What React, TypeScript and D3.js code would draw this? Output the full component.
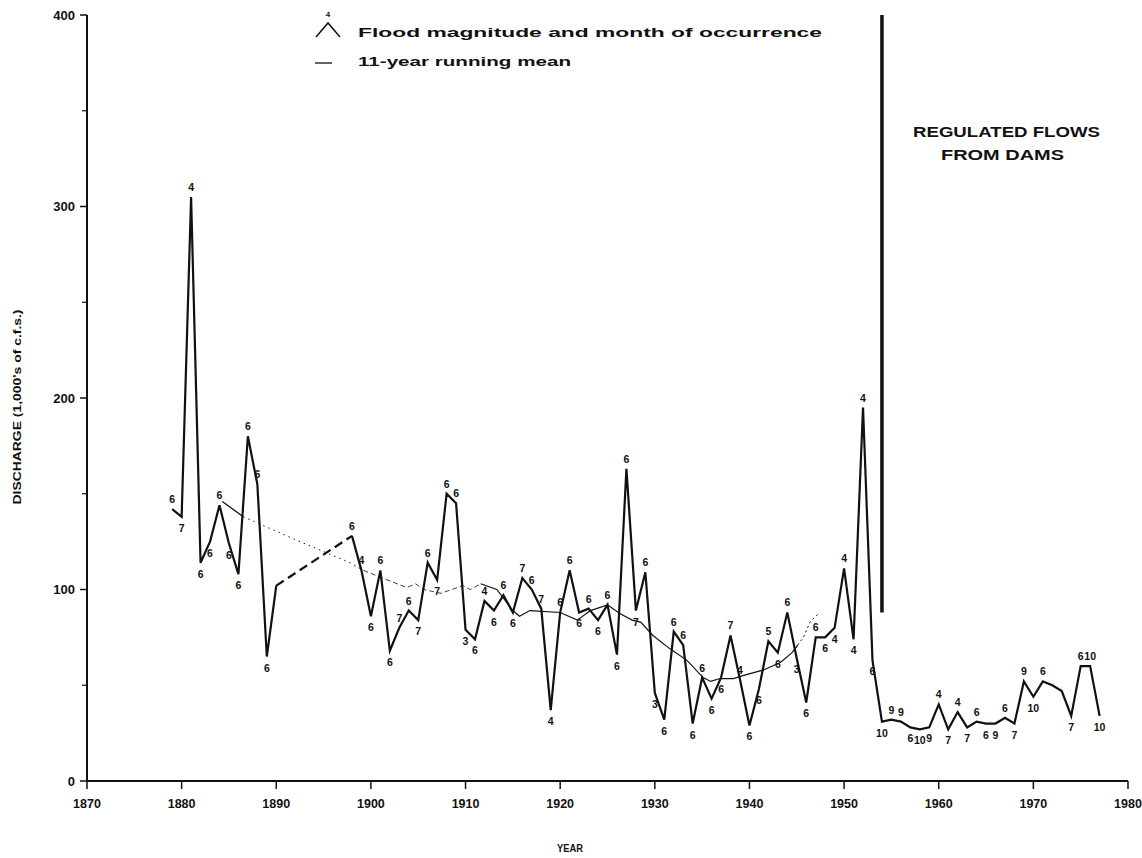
import React from 'react';
import * as d3 from 'd3';

// ---------- data ----------
const earlyYears = [1879, 1880, 1881, 1882, 1883, 1884, 1885, 1886, 1887, 1888, 1889, 1890];
const earlyPeaks = [142, 138, 305, 114, 125, 144, 124, 108, 180, 155, 65, 102];
const earlyMonths = [6, 7, 4, 6, 6, 6, 6, 6, 6, 6, 6, 0];

const laterYears = d3.range(1898, 1978);
const laterPeaks = [
  128, 110, 86, 110, 68, 80, 89, 84, 114, 105, 150, 145, 79, 74, 94, 89, 97, 88, 106, 100,
  90, 37, 88, 110, 88, 90, 84, 92, 66, 163, 89, 109, 46, 32, 78, 71, 30, 54, 43, 54,
  76, 53, 29, 48, 73, 67, 88, 64, 41, 75, 75, 80, 111, 74, 195, 63, 31, 32, 31, 28,
  27, 28, 40, 27, 36, 28, 31, 30, 30, 33, 30, 52, 44, 52, 50, 47, 34, 60, 60, 34,
];
const laterMonths = [
  6, 4, 6, 6, 6, 7, 6, 7, 6, 7, 6, 6, 3, 6, 4, 6, 6, 6, 7, 6,
  7, 4, 6, 6, 6, 6, 6, 6, 6, 6, 7, 6, 3, 6, 6, 6, 6, 6, 6, 6,
  7, 4, 6, 6, 5, 6, 6, 3, 6, 6, 6, 4, 4, 4, 4, 6, 10, 9, 9, 6,
  10, 9, 4, 7, 4, 7, 6, 6, 9, 6, 7, 9, 10, 6, 0, 0, 7, 6, 10, 10,
];

// 11-year running mean, in pieces by line style
const meanSolidEarlyYears = [1884.3, 1886.5];
const meanSolidEarlyValues = [146, 138];
const meanDottedEarlyYears = [1886.5, 1892.5, 1897.8, 1899.2];
const meanDottedEarlyValues = [138, 125, 114, 110];
const meanDashedYears = [1899.2, 1901.2, 1903.8, 1904.7, 1905.6, 1907.4, 1909.7, 1910.5, 1911.6];
const meanDashedValues = [110, 106, 101, 103, 100, 98, 102, 100, 103];
const meanSolidYears = [
  1911.6, 1913.3, 1915, 1915.7, 1916.8, 1920, 1921.8, 1923.2, 1925, 1926.3, 1927.6, 1928.5,
  1929.8, 1931.6, 1933.4, 1935.1, 1935.9, 1936.9, 1938.3, 1939.3, 1941.5, 1943.3, 1944.5, 1945.1,
];
const meanSolidValues = [
  103, 100, 89, 86, 89, 88, 84, 89, 92, 87.5, 84, 83,
  76, 69, 63, 54, 52, 53.5, 53.5, 55, 58, 62, 67, 71,
];
const meanDottedLateYears = [1945.1, 1945.7, 1946.4, 1947.3];
const meanDottedLateValues = [71, 75, 83, 87.5];

const damYear = 1954;
const damRange = [88, 400];

const xTicks = [1870, 1880, 1890, 1900, 1910, 1920, 1930, 1940, 1950, 1960, 1970, 1980];
const yTicks = [0, 100, 200, 300, 400];
const yMinorTicks = [50, 150, 250, 350];

const FONT = "'Liberation Sans Narrow', 'Liberation Sans', Arial, sans-serif";
const FONT_W = "'Liberation Sans', Arial, sans-serif";
const INK = '#111';

export default function App() {
  const W = 1142;
  const H = 858;
  const x = d3.scaleLinear().domain([1870, 1980]).range([87, 1128]);
  const y = d3.scaleLinear().domain([0, 400]).range([781, 15]);

  const line = d3
    .line<[number, number]>()
    .x((d) => x(d[0]))
    .y((d) => y(d[1]));

  const zip = (a: number[], b: number[]): [number, number][] => a.map((v, i) => [v, b[i]]);

  const early = zip(earlyYears, earlyPeaks);
  const later = zip(laterYears, laterPeaks);
  const gap: [number, number][] = [early[early.length - 1], later[0]];

  const labelFor = (vals: number[], months: number[], years: number[]) =>
    vals.map((v, i) => {
      const p = i > 0 ? vals[i - 1] : null;
      const n = i < vals.length - 1 ? vals[i + 1] : null;
      let above: boolean;
      if (p === null && n !== null) above = v >= n;
      else if (n === null && p !== null) above = v >= p;
      else {
        const pp = p as number;
        const nn = n as number;
        if (v >= Math.max(pp, nn)) above = true;
        else if (v <= Math.min(pp, nn)) above = false;
        else above = v >= (pp + nn) / 2;
      }
      return { year: years[i], value: v, month: months[i], above };
    });

  const labels = [
    ...labelFor(earlyPeaks, earlyMonths, earlyYears),
    ...labelFor(laterPeaks, laterMonths, laterYears),
  ].filter((d) => d.month > 0);

  return (
    <svg
      width={W}
      height={H}
      viewBox={`0 0 ${W} ${H}`}
      style={{ position: 'absolute', left: 0, top: 0, background: '#fff' }}
    >
      <rect x={0} y={0} width={W} height={H} fill="#fff" />

      {/* axes */}
      <line x1={x(1870)} y1={y(0)} x2={x(1980)} y2={y(0)} stroke={INK} strokeWidth={2} />
      <line x1={x(1870)} y1={y(0)} x2={x(1870)} y2={y(400)} stroke={INK} strokeWidth={2} />
      {yTicks.map((t) => (
        <g key={'y' + t}>
          <line x1={x(1870) - 7} x2={x(1870)} y1={y(t)} y2={y(t)} stroke={INK} strokeWidth={1.5} />
          <text
            x={x(1870) - 12}
            y={y(t)}
            dy="0.35em"
            textAnchor="end"
            fontFamily={FONT}
            fontWeight="bold"
            fontSize={13}
            fill={INK}
          >
            {t}
          </text>
        </g>
      ))}
      {yMinorTicks.map((t) => (
        <line key={'ym' + t} x1={x(1870) - 5} x2={x(1870)} y1={y(t)} y2={y(t)} stroke={INK} strokeWidth={1.2} />
      ))}
      {xTicks.map((t) => (
        <g key={'x' + t}>
          <line x1={x(t)} x2={x(t)} y1={y(0)} y2={y(0) + 8} stroke={INK} strokeWidth={1.5} />
          <text
            x={x(t)}
            y={y(0) + 27}
            textAnchor="middle"
            fontFamily={FONT}
            fontWeight="bold"
            fontSize={12.5}
            fill={INK}
          >
            {t}
          </text>
        </g>
      ))}

      {/* axis titles */}
      <text
        x={570}
        y={852}
        textAnchor="middle"
        fontFamily={FONT_W}
        fontWeight="bold"
        fontSize={10}
        fill={INK}
        textLength={26}
        lengthAdjust="spacingAndGlyphs"
      >
        YEAR
      </text>
      <text
        transform="translate(21,407) rotate(-90)"
        textAnchor="middle"
        fontFamily={FONT_W}
        fontWeight="bold"
        fontSize={10.5}
        fill={INK}
        textLength={195}
        lengthAdjust="spacingAndGlyphs"
      >
        DISCHARGE (1,000's of c.f.s.)
      </text>

      {/* running mean */}
      <path d={line(zip(meanSolidEarlyYears, meanSolidEarlyValues)) || ''} fill="none" stroke={INK} strokeWidth={1.3} />
      <path
        d={line(zip(meanDottedEarlyYears, meanDottedEarlyValues)) || ''}
        fill="none"
        stroke={INK}
        strokeWidth={1}
        strokeDasharray="1.5,4"
      />
      <path
        d={line(zip(meanDashedYears, meanDashedValues)) || ''}
        fill="none"
        stroke={INK}
        strokeWidth={1}
        strokeDasharray="5,3"
        opacity={0.8}
      />
      <path d={line(zip(meanSolidYears, meanSolidValues)) || ''} fill="none" stroke={INK} strokeWidth={1.2} />
      <path
        d={line(zip(meanDottedLateYears, meanDottedLateValues)) || ''}
        fill="none"
        stroke={INK}
        strokeWidth={1}
        strokeDasharray="2,3"
      />

      {/* annual floods */}
      <path d={line(early) || ''} fill="none" stroke={INK} strokeWidth={2.2} strokeLinejoin="miter" />
      <path d={line(gap) || ''} fill="none" stroke={INK} strokeWidth={2.2} strokeDasharray="9,5" />
      <path d={line(later) || ''} fill="none" stroke={INK} strokeWidth={2.2} strokeLinejoin="miter" />

      {/* month labels */}
      {labels.map((d, i) => (
        <text
          key={'m' + i}
          x={x(d.year)}
          y={y(d.value) + (d.above ? -6 : 15)}
          textAnchor="middle"
          fontFamily={FONT_W}
          fontWeight="bold"
          fontSize={10.5}
          fill={INK}
        >
          {d.month}
        </text>
      ))}

      {/* dam line */}
      <line
        x1={x(damYear)}
        x2={x(damYear)}
        y1={y(damRange[0])}
        y2={y(damRange[1])}
        stroke={INK}
        strokeWidth={3.5}
      />
      <text
        x={913}
        y={137}
        fontFamily={FONT_W}
        fontWeight="bold"
        fontSize={14}
        fill={INK}
        textLength={187}
        lengthAdjust="spacingAndGlyphs"
      >
        REGULATED FLOWS
      </text>
      <text
        x={941}
        y={160}
        fontFamily={FONT_W}
        fontWeight="bold"
        fontSize={14}
        fill={INK}
        textLength={123}
        lengthAdjust="spacingAndGlyphs"
      >
        FROM DAMS
      </text>

      {/* legend */}
      <path d="M316,37 L328,23 L340,37" fill="none" stroke={INK} strokeWidth={1.5} />
      <text x={328} y={17} textAnchor="middle" fontFamily={FONT_W} fontWeight="bold" fontSize={8} fill={INK}>
        4
      </text>
      <text
        x={358}
        y={37}
        fontFamily={FONT_W}
        fontWeight="bold"
        fontSize={13}
        fill={INK}
        textLength={464}
        lengthAdjust="spacingAndGlyphs"
      >
        Flood magnitude and month of occurrence
      </text>
      <line x1={315} x2={332} y1={63} y2={63} stroke={INK} strokeWidth={1.3} />
      <text
        x={358}
        y={66}
        fontFamily={FONT_W}
        fontWeight="bold"
        fontSize={13}
        fill={INK}
        textLength={213}
        lengthAdjust="spacingAndGlyphs"
      >
        11-year running mean
      </text>
    </svg>
  );
}
